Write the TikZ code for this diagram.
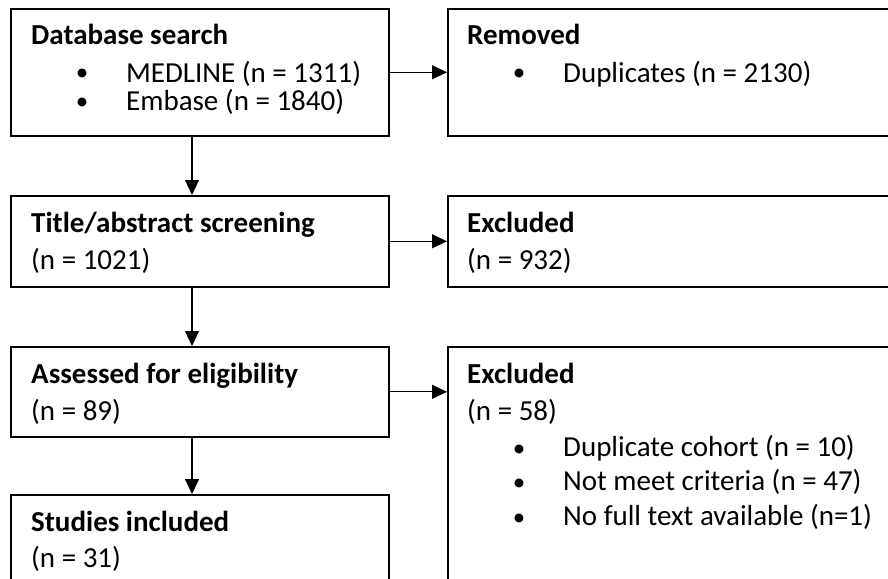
\documentclass[tikz,border=0pt]{standalone}
\usepackage{fontspec}
\setmainfont{Carlito}
\usetikzlibrary{arrows.meta}
\begin{document}
\begin{tikzpicture}[x=1pt,y=-1pt,
  box/.style={draw,line width=1.6pt,rectangle,inner sep=0pt,anchor=north west},
  txt/.style={anchor=base west,inner sep=0pt,font=\fontsize{29}{35}\selectfont},
  hd/.style={anchor=base west,inner sep=0pt,font=\fontsize{29}{35}\selectfont\bfseries},
  bul/.style={anchor=base,inner sep=0pt,font=\fontsize{25}{30}\selectfont},
  arr/.style={line width=1.2pt,-{Triangle[length=15pt,width=14pt]}}]
\useasboundingbox (0,0) rectangle (888,578);
\clip (0,0) rectangle (888,578);
% left column boxes
\node[box,minimum width=378pt,minimum height=127pt] (db) at (10,8) {};
\node[box,minimum width=378pt,minimum height=91pt] (ta) at (10,195) {};
\node[box,minimum width=378pt,minimum height=90pt] (ae) at (10,346) {};
\node[box,minimum width=378pt,minimum height=120pt] (si) at (10,494) {};
% right column boxes
\node[box,minimum width=470pt,minimum height=127pt] (rm) at (447,8) {};
\node[box,minimum width=470pt,minimum height=91pt] (ex1) at (447,195) {};
\node[box,minimum width=470pt,minimum height=260pt] (ex2) at (447,346) {};
% texts
\node[hd] (t1) at (31,45) {Database search};
\node[bul] (b1) at (82,81) {•};
\node[txt] (t1a) at (126,82) {MEDLINE (n = 1311)};
\node[bul] (b2) at (82,109) {•};
\node[txt] (t1b) at (126,110) {Embase (n = 1840)};
\node[hd] (t2) at (467,45) {Removed};
\node[bul] (b3) at (519,81) {•};
\node[txt] (t2a) at (563,82) {Duplicates (n = 2130)};
\node[hd] (t3) at (31,232) {Title/abstract screening};
\node[txt] (t3a) at (31,269) {(n = 1021)};
\node[hd] (t4) at (467,232) {Excluded};
\node[txt] (t4a) at (467,269) {(n = 932)};
\node[hd] (t5) at (31,383) {Assessed for eligibility};
\node[txt] (t5a) at (31,420) {(n = 89)};
\node[hd] (t6) at (467,383) {Excluded};
\node[txt] (t6a) at (467,420) {(n = 58)};
\node[bul] (b4) at (519,456) {•};
\node[txt] (t6b) at (563,456) {Duplicate cohort (n = 10)};
\node[bul] (b5) at (519,490) {•};
\node[txt] (t6c) at (563,490) {Not meet criteria (n = 47)};
\node[bul] (b6) at (519,525) {•};
\node[txt] (t6d) at (563,525) {No full text available (n=1)};
\node[hd] (t7) at (31,531) {Studies included};
\node[txt] (t7a) at (31,567) {(n = 31)};
% connectors
\coordinate (vx) at (192,0);
\draw[arr] (db.east) -- (rm.west |- db.east);
\draw[arr] (ta.east) -- (ex1.west |- ta.east);
\draw[arr] (ae.east) -- (ex2.west |- ae.east);
\draw[arr] (db.south -| vx) -- (ta.north -| vx);
\draw[arr] (ta.south -| vx) -- (ae.north -| vx);
\draw[arr] (ae.south -| vx) -- (si.north -| vx);
\end{tikzpicture}
\end{document}
